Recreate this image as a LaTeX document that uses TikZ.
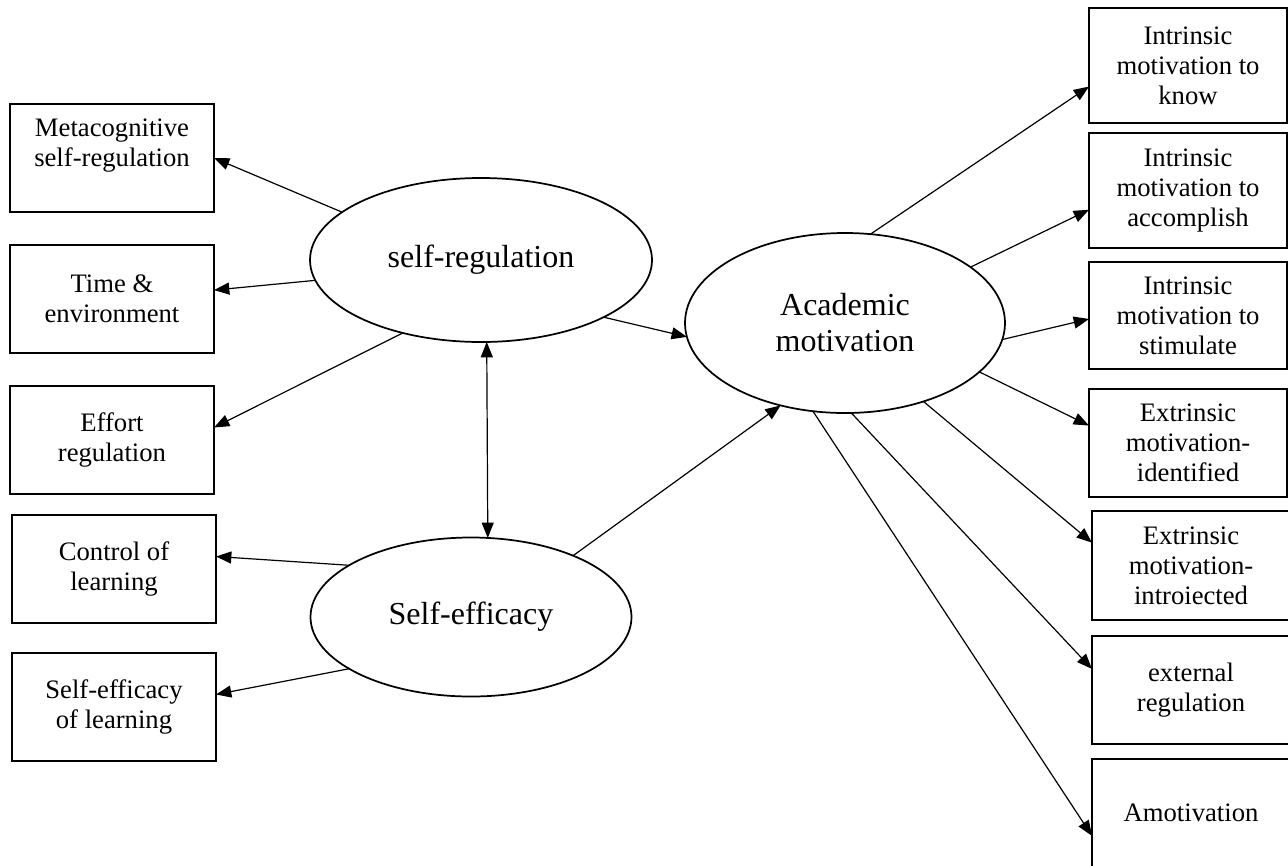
\documentclass[tikz,border=0pt]{standalone}
\usepackage{fontspec}
\setmainfont{Liberation Serif}
\usetikzlibrary{shapes.geometric,arrows.meta}

\begin{document}
\begin{tikzpicture}
[x=0.75pt,y=-0.75pt,
 every node/.style={draw=black,line width=1.1pt,inner sep=0pt,outer sep=0pt,align=center},
 box/.style={rectangle,font=\fontsize{20}{22.5}\selectfont},
 lbox/.style={box,minimum width=153pt,minimum height=81pt},
 rbox/.style={box,minimum width=148.5pt,minimum height=81pt},
 lat/.style={ellipse,line width=1.3pt,font=\fontsize{24}{27}\selectfont},
 >={Triangle[length=11.5pt,width=9pt]},
 line width=0.9pt]
\useasboundingbox (0,0) rectangle (1288,865);

% latent variables
\node[lat,minimum width=256.5pt,minimum height=123pt]    (sr) at (481,260) {self-regulation};
\node[lat,minimum width=240.75pt,minimum height=119.25pt] (se) at (471,617) {Self-efficacy};
\node[lat,minimum width=240pt,minimum height=135pt]      (am) at (845,323) {Academic\\motivation};

% left indicators
\node[lbox] (meta)    at (112,158) {Metacognitive\\self-regulation\\\mbox{}};
\node[lbox] (time)    at (112,299) {Time \&\\environment};
\node[lbox] (effort)  at (112,440) {Effort\\regulation};
\node[lbox] (control) at (114,569) {Control of\\learning};
\node[lbox] (seol)    at (114,707) {Self-efficacy\\of learning};

% right indicators
\node[rbox,minimum height=86.25pt] (know)   at (1188,65.5)  {Intrinsic\\motivation to\\know};
\node[rbox,minimum height=86.25pt] (accomp) at (1188,190.5) {Intrinsic\\motivation to\\accomplish};
\node[rbox,minimum height=80.25pt] (stim)   at (1188,315.5) {Intrinsic\\motivation to\\stimulate};
\node[rbox]                        (ident)  at (1188,443)   {Extrinsic\\motivation-\\identified};
\node[rbox,minimum height=81.75pt] (introj) at (1191,565.5) {Extrinsic\\motivation-\\introiected};
\node[rbox]                        (extreg) at (1191,690)   {external\\regulation};
\node[rbox]                        (amot)   at (1191,813)   {Amotivation};

\path[->] (sr.161) edge (meta.east);
\path[->] (sr.187.6) edge (time.5);
\path[->] (sr.223.5) edge (effort.7);
\path[->] (se.157) edge (control.7.8);
\path[->] (se.203) edge (seol.7.8);
\path[<->] (sr.274.2) edge (se.78.5);
\path[->] (sr.335.7) edge (am.185);
\path[->] (se.31.3) edge (am.232);

\path[->] (am.74.6)  edge (know.192.8);
\path[->] (am.24.9)  edge (accomp.191);
\path[->] (am.354)   edge (stim.182.6);
\path[->] (am.340.7) edge (ident.170);
\path[->] (am.315.4) edge (introj.167.5);
\path[->] (am.274.4) edge (extreg.168);
\path[->] (am.250.4) edge (amot.193);
\end{tikzpicture}
\end{document}
